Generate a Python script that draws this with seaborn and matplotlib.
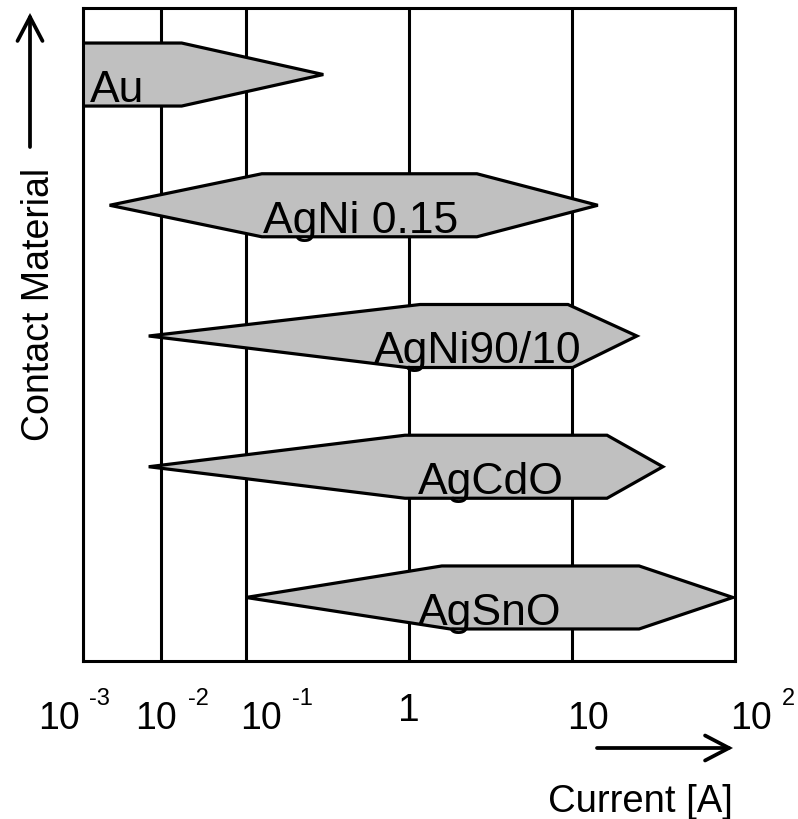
import numpy as np
import matplotlib
matplotlib.use("Agg")
import matplotlib.pyplot as plt
from matplotlib.ticker import NullLocator
import seaborn as sns

# ---------------- data ----------------
materials = ["Au", "AgNi 0.15", "AgNi90/10", "AgCdO", "AgSnO"]
# current range envelope of each material [A]
left_tip = [0.001, 0.0022, 0.007, 0.007, 0.10]
left_top = [0.001, 0.125, 1.17, 0.945, 1.59]
left_bottom = [0.001, 0.125, 0.97, 0.945, 1.79]
right_top = [0.0176, 2.61, 9.45, 16.4, 25.8]
right_bottom = [0.0176, 2.61, 10.1, 16.4, 25.8]
right_tip = [0.298, 14.4, 25.0, 36.1, 97.0]
label_x = [0.00274, 0.508, 2.65, 3.18, 3.14]

tick_values = [0.001, 0.01, 0.1, 1, 10, 100]
tick_base = ["10", "10", "10", "1", "10", "10"]
tick_sup = ["-3", "-2", "-1", "", "", "2"]

# ---------------- style ----------------
sns.set_theme(style="white")
plt.rcParams["font.family"] = ["Liberation Sans", "DejaVu Sans"]
plt.rcParams["text.color"] = "black"

W, H = 798, 819
fig = plt.figure(figsize=(W / 100, H / 100), dpi=100)
ax = fig.add_axes([83 / W, 1 - 661 / H, (735 - 83) / W, (661 - 8) / H])

# axis scale: two compressed decades below 0.1 A, regular decades above
Lk = np.array([-3, -2, -1, 0, 1, 2], dtype=float)
Uk = np.array([0, 0.477, 1, 2, 3, 4], dtype=float)


def fwd(x):
    x = np.asarray(x, dtype=float)
    L = np.log10(np.maximum(x, 1e-300))
    return np.where(L < -3, (L + 3) * 0.477,
                    np.where(L > 2, L + 2, np.interp(L, Lk, Uk)))


def inv(u):
    u = np.asarray(u, dtype=float)
    L = np.where(u < 0, u / 0.477 - 3,
                 np.where(u > 4, u - 2, np.interp(u, Uk, Lk)))
    return 10.0 ** L


ax.set_xscale("function", functions=(fwd, inv))
ax.set_xlim(0.001, 100)
ax.set_ylim(4.486, -0.509)

half = 0.241
for i, name in enumerate(materials):
    xs = [left_tip[i], left_top[i], right_top[i], right_tip[i],
          right_bottom[i], left_bottom[i]]
    ys = [i, i - half, i - half, i, i + half, i + half]
    ax.fill(xs, ys, facecolor="#c0c0c0", edgecolor="black", lw=2.3,
            zorder=2, joinstyle="miter")
    ax.text(label_x[i], i + 0.21, name, fontsize=32, ha="center",
            va="baseline", color="black", zorder=3)

ax.set_xticks(tick_values)
ax.xaxis.set_minor_locator(NullLocator())
ax.set_yticks([])
ax.tick_params(axis="x", length=0, labelbottom=False)
ax.set_axisbelow(True)
ax.grid(axis="x", color="black", lw=2.2)
ax.grid(axis="y", visible=False)
for s in ax.spines.values():
    s.set_color("black")
    s.set_linewidth(2.2)

# tick labels (pixel offsets from each grid line)
base_dx = [-24, -5, 15, 0, 16, 16]
sup_dx = [6, 27, 46, 0, 0, 47]
base_dy = [-68, -68, -68, -60, -68, -68]
base_fs = [27, 27, 27, 28, 27, 27]
px = 0.72
for i, v in enumerate(tick_values):
    ax.annotate(tick_base[i], xy=(v, 0), xycoords=("data", "axes fraction"),
                xytext=(base_dx[i] * px, base_dy[i] * px),
                textcoords="offset points", ha="center", va="baseline",
                fontsize=base_fs[i], color="black", annotation_clip=False)
    if tick_sup[i]:
        ax.annotate(tick_sup[i], xy=(v, 0), xycoords=("data", "axes fraction"),
                    xytext=(sup_dx[i] * px, -44 * px),
                    textcoords="offset points", ha="left", va="baseline",
                    fontsize=17, color="black", annotation_clip=False)

# axis titles with arrows
fig.text(733 / W, 7 / H, "Current [A]", ha="right", va="baseline",
         fontsize=27.5, color="black")
fig.text(39 / W, 1 - 304.5 / H, "Contact Material", rotation=90,
         ha="center", va="center", fontsize=27, color="black")

arrow_kw = dict(arrowstyle="->,head_length=0.86,head_width=0.45",
                lw=2.7, color="black", mutation_scale=20,
                shrinkA=0, shrinkB=0, joinstyle="miter")
ax.annotate("", xy=(733, H - 748), xytext=(597, H - 748),
            xycoords="figure pixels", textcoords="figure pixels",
            arrowprops=arrow_kw, annotation_clip=False)
ax.annotate("", xy=(30, H - 13), xytext=(30, H - 147),
            xycoords="figure pixels", textcoords="figure pixels",
            arrowprops=arrow_kw, annotation_clip=False)

fig.savefig("out.png", dpi=100)
